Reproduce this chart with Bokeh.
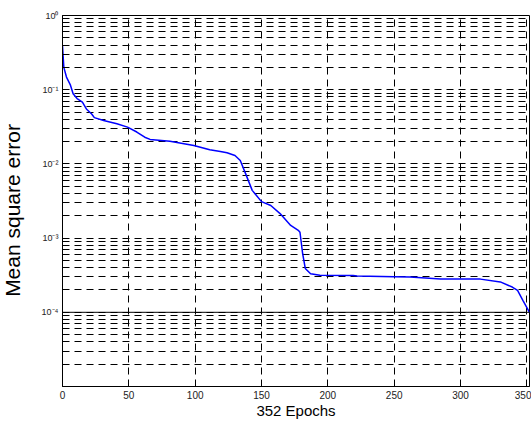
import math
from bokeh.plotting import figure
from bokeh.models import Range1d, FixedTicker, Span, Label
from bokeh.embed import file_html
from bokeh.resources import INLINE

# ---- data ----
epochs = [0, 1, 3, 6, 8, 11, 15, 18, 22, 24, 31, 41, 49, 56, 62, 66, 81, 99, 111,
          119, 124, 130, 134, 138, 143, 150, 157, 164, 172, 178, 179, 181, 183,
          187, 194, 219, 222, 250, 262, 285, 315, 330, 339, 343, 347, 352]
mse = [0.39, 0.20, 0.148, 0.115, 0.088, 0.076, 0.068, 0.055, 0.047, 0.042, 0.0385,
       0.0347, 0.0313, 0.0269, 0.0229, 0.0214, 0.0202, 0.0177, 0.0155, 0.0147,
       0.0141, 0.0130, 0.0111, 0.0074, 0.0044, 0.0031, 0.00275, 0.00214, 0.00148,
       0.00126, 0.0012, 0.00062, 0.00039, 0.00033, 0.000316, 0.000314, 0.000309,
       0.000302, 0.000298, 0.000282, 0.000280, 0.000257, 0.000219, 0.000197,
       0.000145, 0.0001]

x_ticks = [0, 50, 100, 150, 200, 250, 300, 350]
x_tick_labels = ["0", "50", "100", "150", "200", "250", "300", "350"]
y_ticks = [1e-4, 1e-3, 1e-2, 1e-1, 1.0]
y_tick_labels = ["10\u207b\u2074", "10\u207b\u00b3", "10\u207b\u00b2", "10\u207b\u00b9", "10\u2070"]
y_minor_ticks = [m * 10.0 ** k for k in range(-5, 0) for m in range(2, 10)]
x_max = 352
y_min, y_max = 1e-5, 1.0
x_title = "352 Epochs"
y_title = "Mean square error"

FONT = "Liberation Sans"
DASH = "7 5"

p = figure(width=531, height=435, output_backend="svg", toolbar_location=None,
           y_axis_type="log", x_range=Range1d(0, x_max), y_range=Range1d(y_min, y_max),
           min_border_left=62, min_border_right=2, min_border_top=15, min_border_bottom=49)
p.background_fill_color = "white"
p.border_fill_color = "white"
p.outline_line_color = "black"
p.outline_line_width = 1
p.outline_line_alpha = 1

# axes
p.xaxis.ticker = FixedTicker(ticks=x_ticks)
p.xaxis.major_label_overrides = {t: l for t, l in zip(x_ticks, x_tick_labels)}
p.yaxis.ticker = FixedTicker(ticks=y_ticks, minor_ticks=y_minor_ticks)
p.yaxis.major_label_overrides = {t: l for t, l in zip(y_ticks, y_tick_labels)}

for ax in (p.xaxis[0], p.yaxis[0]):
    ax.axis_line_color = "black"
    ax.major_tick_in = 5
    ax.major_tick_out = 0
    ax.minor_tick_in = 3
    ax.minor_tick_out = 0
    ax.major_tick_line_color = "black"
    ax.minor_tick_line_color = "black"
    ax.major_label_text_font = FONT
    ax.major_label_text_color = "#222222"
    ax.axis_label_text_font = FONT
    ax.axis_label_text_font_style = "normal"
    ax.axis_label_text_color = "black"
    ax.major_label_standoff = 4

p.xaxis.minor_tick_line_color = None
p.xaxis.major_label_text_font_size = "10px"
p.yaxis.major_label_text_font_size = "9px"
p.xaxis.axis_label = x_title
p.xaxis.axis_label_text_font_size = "15px"
p.xaxis.axis_label_standoff = 0

# y title: rotated label placed in the left side panel
p.add_layout(Label(x=-3, y=176, x_units="screen", y_units="screen", text=y_title,
                   angle=math.pi / 2, text_align="center", text_baseline="alphabetic",
                   text_font=FONT, text_font_size="21px", text_color="black"), "left")

# grid
p.xgrid.grid_line_color = "black"
p.xgrid.grid_line_dash = DASH
p.xgrid.grid_line_width = 1
p.ygrid.grid_line_color = "black"
p.ygrid.grid_line_dash = DASH
p.ygrid.grid_line_width = 1
p.ygrid.minor_grid_line_color = "black"
p.ygrid.minor_grid_line_dash = DASH
p.ygrid.minor_grid_line_width = 1

p.add_layout(Span(location=y_ticks[0], dimension="width", line_color="black", line_width=1))

p.line(epochs, mse, line_color="#0000ff", line_width=1.5)

open("out.html", "w").write(file_html(p, INLINE))
